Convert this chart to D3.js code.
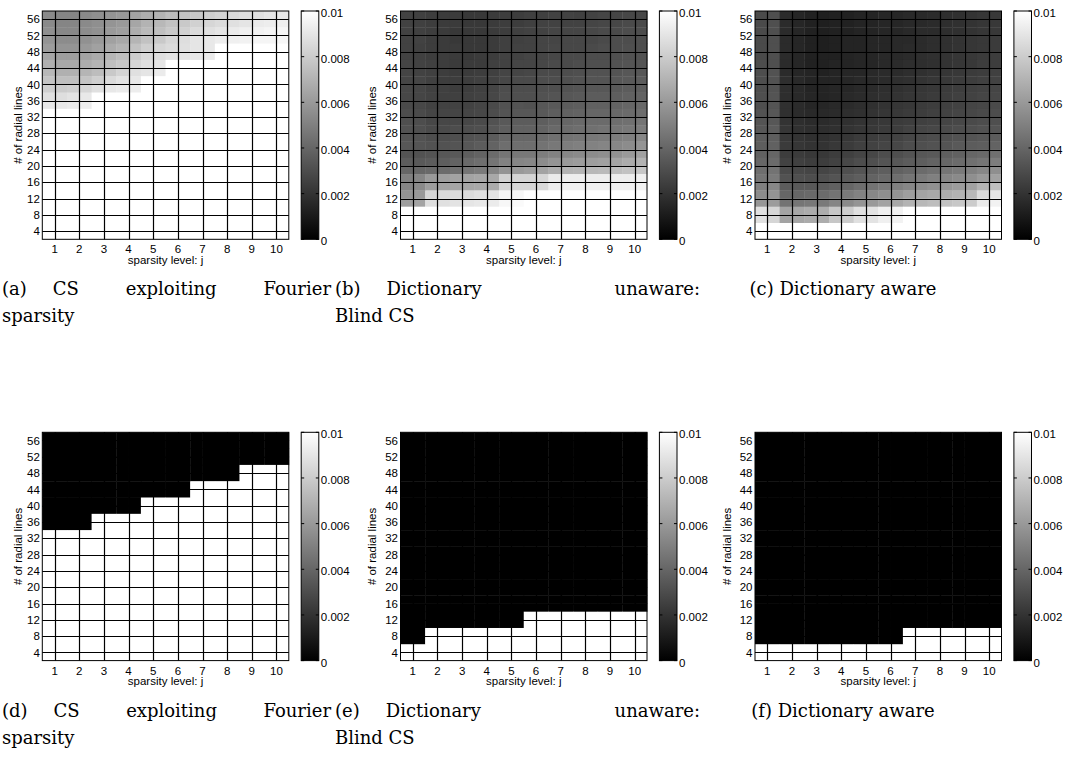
<!DOCTYPE html>
<html>
<head>
<meta charset="utf-8">
<script src="https://cdn.jsdelivr.net/npm/d3@7"></script>
<style>
  body { margin: 0; background: #fff; }
  svg { display: block; }
  .ax text { font-family: 'Liberation Sans', Arial, sans-serif; font-size: 11.5px; fill: #000; }
  .cap text { font-family: 'DejaVu Serif', serif; font-size: 18px; fill: #000; }
</style>
</head>
<body>
<div id="chart"></div>
<script>
const width = 1065;
const height = 771;

// cell centres (sparsity level j, # of radial lines)
const colCenters = [0.75, 1.25, 1.75, 2.25, 2.75, 3.25, 3.75, 4.25, 4.75, 5.25,
  5.75, 6.25, 6.75, 7.25, 7.75, 8.25, 8.75, 9.25, 9.75, 10.25];
const rowCenters = [57, 55, 53, 51, 49, 47, 45, 43, 41, 39, 37, 35, 33, 31,
  29, 27, 25, 23, 21, 19, 17, 15, 13, 11, 9, 7, 5, 3];
const xTicks = [1, 2, 3, 4, 5, 6, 7, 8, 9, 10];
const yTicks = [4, 8, 12, 16, 20, 24, 28, 32, 36, 40, 44, 48, 52, 56];
const cbTicks = [0, 0.002, 0.004, 0.006, 0.008, 0.01];

// reconstruction error, in units of 1e-3, rows from 57 lines down to 3
const fourierErr = [
  [5.4, 5.2, 5.2, 5.4, 5.6, 5.8, 6.0, 6.4, 6.8, 7.0, 7.4, 7.6, 7.9, 8.1, 8.3, 8.5, 8.7, 8.8, 9.0, 9.1],
  [5.4, 5.2, 5.2, 5.4, 5.6, 5.8, 6.0, 6.5, 7.0, 7.2, 7.6, 7.9, 8.2, 8.4, 8.6, 8.8, 9.0, 9.2, 9.3, 9.4],
  [5.6, 5.3, 5.3, 5.5, 5.7, 6.0, 6.2, 6.8, 7.3, 7.5, 7.9, 8.2, 8.6, 8.8, 9.0, 9.2, 9.4, 9.5, 9.6, 9.7],
  [5.8, 5.5, 5.5, 5.7, 6.0, 6.3, 6.6, 7.1, 7.6, 7.9, 8.4, 8.7, 9.0, 9.1, 9.3, 9.4, 9.5, 9.6, 9.6, 9.7],
  [6.1, 5.8, 5.8, 6.0, 6.3, 6.7, 7.0, 7.6, 8.1, 8.4, 8.6, 8.8, 9.0, 9.1, 10, 10, 10, 10, 10, 10],
  [6.5, 6.2, 6.2, 6.4, 6.7, 7.1, 7.4, 8.0, 8.5, 8.7, 8.9, 9.0, 9.1, 9.2, 10, 10, 10, 10, 10, 10],
  [6.9, 6.6, 6.6, 6.8, 7.1, 7.5, 7.8, 8.4, 8.8, 9.0, 10, 10, 10, 10, 10, 10, 10, 10, 10, 10],
  [7.2, 6.9, 6.9, 7.1, 7.4, 7.9, 8.3, 8.8, 9.0, 9.2, 10, 10, 10, 10, 10, 10, 10, 10, 10, 10],
  [7.7, 7.5, 7.5, 7.7, 8.1, 8.6, 8.9, 9.1, 10, 10, 10, 10, 10, 10, 10, 10, 10, 10, 10, 10],
  [8.1, 8.0, 8.1, 8.4, 8.8, 9.1, 9.2, 9.3, 10, 10, 10, 10, 10, 10, 10, 10, 10, 10, 10, 10],
  [8.8, 8.7, 8.9, 9.1, 10, 10, 10, 10, 10, 10, 10, 10, 10, 10, 10, 10, 10, 10, 10, 10],
  [9.1, 9.1, 9.2, 9.3, 10, 10, 10, 10, 10, 10, 10, 10, 10, 10, 10, 10, 10, 10, 10, 10],
  [10, 10, 10, 10, 10, 10, 10, 10, 10, 10, 10, 10, 10, 10, 10, 10, 10, 10, 10, 10],
  [10, 10, 10, 10, 10, 10, 10, 10, 10, 10, 10, 10, 10, 10, 10, 10, 10, 10, 10, 10],
  [10, 10, 10, 10, 10, 10, 10, 10, 10, 10, 10, 10, 10, 10, 10, 10, 10, 10, 10, 10],
  [10, 10, 10, 10, 10, 10, 10, 10, 10, 10, 10, 10, 10, 10, 10, 10, 10, 10, 10, 10],
  [10, 10, 10, 10, 10, 10, 10, 10, 10, 10, 10, 10, 10, 10, 10, 10, 10, 10, 10, 10],
  [10, 10, 10, 10, 10, 10, 10, 10, 10, 10, 10, 10, 10, 10, 10, 10, 10, 10, 10, 10],
  [10, 10, 10, 10, 10, 10, 10, 10, 10, 10, 10, 10, 10, 10, 10, 10, 10, 10, 10, 10],
  [10, 10, 10, 10, 10, 10, 10, 10, 10, 10, 10, 10, 10, 10, 10, 10, 10, 10, 10, 10],
  [10, 10, 10, 10, 10, 10, 10, 10, 10, 10, 10, 10, 10, 10, 10, 10, 10, 10, 10, 10],
  [10, 10, 10, 10, 10, 10, 10, 10, 10, 10, 10, 10, 10, 10, 10, 10, 10, 10, 10, 10],
  [10, 10, 10, 10, 10, 10, 10, 10, 10, 10, 10, 10, 10, 10, 10, 10, 10, 10, 10, 10],
  [10, 10, 10, 10, 10, 10, 10, 10, 10, 10, 10, 10, 10, 10, 10, 10, 10, 10, 10, 10],
  [10, 10, 10, 10, 10, 10, 10, 10, 10, 10, 10, 10, 10, 10, 10, 10, 10, 10, 10, 10],
  [10, 10, 10, 10, 10, 10, 10, 10, 10, 10, 10, 10, 10, 10, 10, 10, 10, 10, 10, 10],
  [10, 10, 10, 10, 10, 10, 10, 10, 10, 10, 10, 10, 10, 10, 10, 10, 10, 10, 10, 10],
  [10, 10, 10, 10, 10, 10, 10, 10, 10, 10, 10, 10, 10, 10, 10, 10, 10, 10, 10, 10],
];

const blindErr = [
  [2.6, 2.5, 2.4, 2.3, 2.3, 2.2, 2.2, 2.3, 2.4, 2.4, 2.5, 2.5, 2.6, 2.6, 2.5, 2.6, 2.7, 2.7, 2.8, 2.8],
  [2.6, 2.5, 2.4, 2.3, 2.3, 2.2, 2.2, 2.3, 2.4, 2.4, 2.5, 2.6, 2.6, 2.6, 2.6, 2.7, 2.8, 2.8, 2.9, 2.9],
  [2.6, 2.5, 2.4, 2.3, 2.2, 2.2, 2.2, 2.3, 2.4, 2.5, 2.6, 2.6, 2.7, 2.7, 2.7, 2.8, 2.9, 2.9, 3.0, 3.0],
  [2.6, 2.6, 2.4, 2.3, 2.2, 2.2, 2.2, 2.3, 2.5, 2.5, 2.6, 2.7, 2.7, 2.8, 2.8, 2.8, 2.9, 3.0, 3.0, 3.1],
  [2.6, 2.5, 2.4, 2.3, 2.3, 2.2, 2.2, 2.3, 2.5, 2.6, 2.6, 2.7, 2.8, 2.8, 2.8, 2.9, 3.0, 3.0, 3.1, 3.1],
  [2.6, 2.5, 2.4, 2.4, 2.3, 2.2, 2.3, 2.4, 2.6, 2.6, 2.7, 2.7, 2.8, 2.9, 2.9, 3.0, 3.0, 3.1, 3.2, 3.2],
  [2.7, 2.6, 2.5, 2.4, 2.3, 2.3, 2.3, 2.5, 2.6, 2.7, 2.7, 2.8, 2.9, 2.9, 3.0, 3.1, 3.1, 3.2, 3.3, 3.3],
  [2.7, 2.6, 2.5, 2.4, 2.3, 2.3, 2.4, 2.5, 2.7, 2.7, 2.8, 2.9, 2.9, 3.0, 3.1, 3.2, 3.2, 3.3, 3.4, 3.4],
  [2.7, 2.7, 2.5, 2.4, 2.4, 2.4, 2.5, 2.6, 2.8, 2.9, 2.9, 3.0, 3.0, 3.1, 3.2, 3.3, 3.3, 3.4, 3.5, 3.6],
  [2.8, 2.7, 2.5, 2.5, 2.4, 2.4, 2.5, 2.7, 3.0, 3.0, 3.0, 3.1, 3.1, 3.2, 3.3, 3.4, 3.4, 3.5, 3.6, 3.7],
  [2.8, 2.7, 2.6, 2.5, 2.5, 2.5, 2.6, 2.8, 3.1, 3.1, 3.1, 3.2, 3.3, 3.4, 3.5, 3.6, 3.6, 3.7, 3.8, 3.9],
  [2.9, 2.8, 2.6, 2.6, 2.6, 2.6, 2.7, 2.9, 3.2, 3.3, 3.2, 3.4, 3.5, 3.6, 3.7, 3.8, 3.8, 3.9, 4.0, 4.1],
  [3.0, 2.9, 2.7, 2.7, 2.7, 2.7, 2.8, 3.0, 3.3, 3.4, 3.4, 3.5, 3.7, 3.8, 3.9, 4.0, 4.0, 4.1, 4.2, 4.3],
  [3.1, 3.0, 2.8, 2.8, 2.8, 2.8, 2.9, 3.2, 3.5, 3.6, 3.6, 3.7, 3.9, 4.0, 4.1, 4.2, 4.2, 4.3, 4.4, 4.6],
  [3.2, 3.1, 2.9, 2.9, 3.0, 3.0, 3.1, 3.4, 3.7, 3.8, 3.8, 3.9, 4.1, 4.2, 4.3, 4.4, 4.5, 4.6, 4.7, 4.9],
  [3.3, 3.2, 3.0, 3.0, 3.1, 3.2, 3.3, 3.6, 4.0, 4.0, 4.0, 4.2, 4.4, 4.5, 4.6, 4.7, 4.8, 4.9, 5.0, 5.3],
  [3.4, 3.3, 3.2, 3.2, 3.3, 3.4, 3.6, 3.9, 4.3, 4.3, 4.3, 4.5, 4.7, 4.9, 5.0, 5.1, 5.2, 5.3, 5.5, 5.8],
  [3.3, 3.2, 3.3, 3.4, 3.5, 3.7, 3.9, 4.2, 4.6, 4.7, 4.7, 4.9, 5.1, 5.3, 5.4, 5.5, 5.6, 5.7, 6.0, 6.3],
  [3.6, 3.5, 3.6, 3.7, 3.9, 4.1, 4.3, 4.6, 5.1, 5.2, 5.3, 5.5, 5.8, 6.0, 6.1, 6.2, 6.3, 6.4, 6.7, 7.0],
  [4.0, 4.0, 4.1, 4.2, 4.4, 4.6, 4.8, 5.2, 5.8, 6.0, 6.2, 6.4, 6.8, 7.0, 7.1, 7.2, 7.3, 7.4, 7.6, 7.8],
  [5.0, 5.2, 6.0, 6.2, 6.4, 6.4, 6.5, 6.6, 8.2, 8.3, 8.3, 8.4, 9.2, 9.3, 9.3, 9.3, 9.3, 9.3, 9.3, 9.4],
  [5.2, 5.4, 6.2, 6.4, 6.5, 6.5, 6.6, 6.7, 8.3, 8.4, 8.4, 8.5, 9.3, 9.4, 9.4, 9.4, 9.4, 9.4, 9.4, 9.5],
  [5.8, 6.0, 8.4, 8.5, 8.6, 8.6, 8.8, 8.9, 9.6, 9.7, 10, 10, 10, 10, 10, 10, 10, 10, 10, 10],
  [6.2, 6.4, 8.7, 8.8, 8.9, 9.0, 9.1, 9.2, 9.7, 9.8, 10, 10, 10, 10, 10, 10, 10, 10, 10, 10],
  [10, 10, 10, 10, 10, 10, 10, 10, 10, 10, 10, 10, 10, 10, 10, 10, 10, 10, 10, 10],
  [10, 10, 10, 10, 10, 10, 10, 10, 10, 10, 10, 10, 10, 10, 10, 10, 10, 10, 10, 10],
  [10, 10, 10, 10, 10, 10, 10, 10, 10, 10, 10, 10, 10, 10, 10, 10, 10, 10, 10, 10],
  [10, 10, 10, 10, 10, 10, 10, 10, 10, 10, 10, 10, 10, 10, 10, 10, 10, 10, 10, 10],
];

const awareErr = [
  [2.9, 3.1, 1.7, 1.5, 1.3, 1.2, 1.3, 1.3, 1.4, 1.4, 1.5, 1.5, 1.6, 1.6, 1.7, 1.8, 1.9, 2.0, 2.1, 2.2],
  [2.9, 3.1, 1.7, 1.5, 1.3, 1.2, 1.3, 1.3, 1.4, 1.4, 1.5, 1.5, 1.6, 1.6, 1.7, 1.8, 1.9, 2.0, 2.1, 2.2],
  [2.9, 3.1, 1.7, 1.5, 1.3, 1.2, 1.3, 1.3, 1.4, 1.4, 1.5, 1.5, 1.6, 1.7, 1.7, 1.8, 1.9, 2.0, 2.1, 2.2],
  [2.9, 3.1, 1.7, 1.5, 1.3, 1.2, 1.3, 1.4, 1.4, 1.5, 1.5, 1.6, 1.6, 1.7, 1.8, 1.9, 2.0, 2.1, 2.2, 2.3],
  [2.9, 3.1, 1.7, 1.5, 1.3, 1.2, 1.3, 1.4, 1.4, 1.5, 1.5, 1.6, 1.7, 1.7, 1.8, 1.9, 2.0, 2.1, 2.2, 2.3],
  [2.9, 3.1, 1.7, 1.5, 1.3, 1.3, 1.3, 1.4, 1.5, 1.5, 1.6, 1.6, 1.7, 1.8, 1.9, 2.0, 2.1, 2.2, 2.3, 2.4],
  [3.0, 3.1, 1.7, 1.5, 1.3, 1.3, 1.4, 1.4, 1.5, 1.5, 1.6, 1.7, 1.8, 1.8, 1.9, 2.0, 2.1, 2.2, 2.4, 2.4],
  [3.0, 3.2, 1.7, 1.5, 1.4, 1.3, 1.4, 1.5, 1.5, 1.6, 1.7, 1.7, 1.8, 1.9, 2.0, 2.1, 2.2, 2.3, 2.4, 2.5],
  [3.0, 3.2, 1.8, 1.6, 1.4, 1.4, 1.4, 1.5, 1.6, 1.6, 1.7, 1.8, 1.9, 2.0, 2.1, 2.2, 2.3, 2.4, 2.5, 2.6],
  [3.0, 3.2, 1.8, 1.6, 1.4, 1.4, 1.5, 1.5, 1.6, 1.7, 1.8, 1.9, 2.0, 2.1, 2.2, 2.3, 2.4, 2.5, 2.6, 2.7],
  [3.1, 3.3, 1.8, 1.6, 1.5, 1.4, 1.5, 1.6, 1.7, 1.8, 1.9, 2.0, 2.1, 2.2, 2.3, 2.4, 2.5, 2.6, 2.7, 2.8],
  [3.1, 3.3, 1.9, 1.7, 1.5, 1.5, 1.6, 1.7, 1.8, 1.9, 2.0, 2.1, 2.2, 2.3, 2.4, 2.5, 2.6, 2.7, 2.8, 2.9],
  [3.2, 3.4, 1.9, 1.7, 1.6, 1.6, 1.7, 1.8, 1.9, 2.0, 2.1, 2.2, 2.3, 2.4, 2.5, 2.6, 2.7, 2.8, 2.9, 3.0],
  [3.3, 3.4, 2.0, 1.8, 1.7, 1.7, 1.8, 1.9, 2.0, 2.1, 2.2, 2.3, 2.4, 2.5, 2.6, 2.7, 2.8, 2.9, 3.0, 3.1],
  [3.4, 3.6, 2.1, 1.9, 1.8, 1.8, 1.9, 2.0, 2.1, 2.2, 2.3, 2.4, 2.6, 2.7, 2.8, 2.9, 3.0, 3.1, 3.2, 3.3],
  [3.6, 3.7, 2.2, 2.0, 1.9, 1.9, 2.0, 2.1, 2.3, 2.4, 2.5, 2.6, 2.8, 2.9, 3.0, 3.1, 3.2, 3.3, 3.4, 3.6],
  [3.7, 3.8, 2.3, 2.1, 2.0, 2.0, 2.2, 2.3, 2.5, 2.6, 2.7, 2.8, 3.0, 3.1, 3.2, 3.3, 3.5, 3.6, 3.7, 3.9],
  [3.8, 4.0, 2.4, 2.3, 2.2, 2.2, 2.4, 2.5, 2.7, 2.8, 3.0, 3.1, 3.3, 3.4, 3.5, 3.7, 3.8, 4.0, 4.1, 4.4],
  [4.0, 4.2, 2.6, 2.5, 2.4, 2.4, 2.6, 2.8, 3.0, 3.1, 3.3, 3.4, 3.6, 3.7, 3.9, 4.0, 4.2, 4.4, 4.6, 4.9],
  [4.3, 4.5, 2.9, 2.8, 2.7, 2.7, 2.9, 3.1, 3.3, 3.5, 3.7, 3.8, 4.0, 4.2, 4.4, 4.6, 4.8, 5.0, 5.3, 5.6],
  [4.6, 4.8, 3.2, 3.1, 3.0, 3.1, 3.3, 3.5, 3.7, 3.9, 4.1, 4.3, 4.6, 4.8, 5.0, 5.2, 5.4, 5.6, 6.0, 6.3],
  [5.0, 5.3, 3.6, 3.5, 3.5, 3.6, 3.8, 4.0, 4.3, 4.5, 4.8, 5.0, 5.3, 5.5, 5.7, 5.9, 6.1, 6.3, 7.0, 7.5],
  [5.5, 5.8, 4.0, 4.0, 4.1, 4.2, 4.5, 4.8, 5.1, 5.3, 5.6, 5.8, 6.2, 6.4, 6.6, 6.8, 7.0, 7.2, 8.6, 9.0],
  [5.9, 6.1, 4.5, 4.6, 4.7, 4.8, 5.2, 5.4, 5.8, 6.0, 6.4, 6.6, 7.0, 7.2, 7.4, 7.6, 7.8, 8.0, 9.2, 9.5],
  [8.8, 8.4, 6.4, 6.5, 6.7, 6.8, 7.8, 8.0, 8.8, 8.9, 9.4, 9.5, 10, 10, 10, 10, 10, 10, 10, 10],
  [8.8, 8.4, 6.4, 6.5, 6.7, 6.8, 7.8, 8.0, 8.8, 8.9, 9.4, 9.5, 10, 10, 10, 10, 10, 10, 10, 10],
  [10, 10, 10, 10, 10, 10, 10, 10, 10, 10, 10, 10, 10, 10, 10, 10, 10, 10, 10, 10],
  [10, 10, 10, 10, 10, 10, 10, 10, 10, 10, 10, 10, 10, 10, 10, 10, 10, 10, 10, 10],
];

// thresholded maps: per column, the # of radial lines above which the cell is black
const fourierEdge = [34, 34, 34, 34, 38, 38, 38, 38, 42, 42, 42, 42, 46, 46, 46, 46, 50, 50, 50, 50];
const blindEdge = [6, 6, 10, 10, 10, 10, 10, 10, 10, 10, 14, 14, 14, 14, 14, 14, 14, 14, 14, 14];
const awareEdge = [6, 6, 6, 6, 6, 6, 6, 6, 6, 6, 6, 6, 10, 10, 10, 10, 10, 10, 10, 10];

function toGrid(edge) {
  return rowCenters.map((r) => colCenters.map((c, i) => (r > edge[i] ? 0 : 10)));
}

const plotW = 246.5;
const plotH = 228.3;

const panels = [
  { grid: fourierErr, left: 42.3, top: 11, ylab: 24, words: ['(a)', 'CS', 'exploiting', 'Fourier'], line2: 'sparsity', box: [2, 331] },
  { grid: blindErr, left: 400.5, top: 11, ylab: 29, words: ['(b)', 'Dictionary', 'unaware:'], line2: 'Blind CS', box: [335, 700] },
  { grid: awareErr, left: 755, top: 11, ylab: 28, words: ['(c)', 'Dictionary', 'aware'], center: 843 },
  { grid: toGrid(fourierEdge), left: 42.3, top: 432.3, ylab: 24, words: ['(d)', 'CS', 'exploiting', 'Fourier'], line2: 'sparsity', box: [2, 331] },
  { grid: toGrid(blindEdge), left: 400.5, top: 432.3, ylab: 29, words: ['(e)', 'Dictionary', 'unaware:'], line2: 'Blind CS', box: [335, 700] },
  { grid: toGrid(awareEdge), left: 755, top: 432.3, ylab: 28, words: ['(f)', 'Dictionary', 'aware'], center: 843 },
];

const svg = d3
  .select('#chart')
  .append('svg')
  .attr('width', width)
  .attr('height', height);

const grad = svg
  .append('defs')
  .append('linearGradient')
  .attr('id', 'grayMap')
  .attr('x1', 0).attr('y1', 1).attr('x2', 0).attr('y2', 0);
grad.append('stop').attr('offset', 0).attr('stop-color', '#000');
grad.append('stop').attr('offset', 1).attr('stop-color', '#fff');

const color = d3.scaleLinear().domain([0, 0.01]).range(['#000', '#fff']).clamp(true);

function drawPanel(p) {
  const x = d3.scaleLinear().domain([0.5, 10.5]).range([p.left, p.left + plotW]);
  const y = d3.scaleLinear().domain([2, 58]).range([p.top + plotH, p.top]);
  const g = svg.append('g').attr('class', 'ax');

  const cells = [];
  p.grid.forEach((row, ri) => {
    row.forEach((v, ci) => cells.push({ j: colCenters[ci], r: rowCenters[ri], v: v / 1000 }));
  });

  g.append('g')
    .selectAll('rect')
    .data(cells)
    .enter()
    .append('rect')
    .attr('x', (d) => x(d.j - 0.25))
    .attr('y', (d) => y(d.r + 1))
    .attr('width', x(0.5) - x(0) + 0.4)
    .attr('height', y(0) - y(2) + 0.4)
    .attr('fill', (d) => color(d.v));

  // grid lines at the ticks
  g.append('g')
    .selectAll('line')
    .data(xTicks)
    .enter()
    .append('line')
    .attr('x1', (d) => Math.round(x(d)) + 0.5)
    .attr('x2', (d) => Math.round(x(d)) + 0.5)
    .attr('y1', p.top)
    .attr('y2', p.top + plotH)
    .attr('stroke', '#000')
    .attr('stroke-width', 1.2);

  g.append('g')
    .selectAll('line')
    .data(yTicks)
    .enter()
    .append('line')
    .attr('y1', (d) => Math.round(y(d)) + 0.5)
    .attr('y2', (d) => Math.round(y(d)) + 0.5)
    .attr('x1', p.left)
    .attr('x2', p.left + plotW)
    .attr('stroke', '#000')
    .attr('stroke-width', 1.2);

  g.append('rect')
    .attr('x', p.left)
    .attr('y', p.top)
    .attr('width', plotW)
    .attr('height', plotH)
    .attr('fill', 'none')
    .attr('stroke', '#000');

  g.selectAll('text.yt')
    .data(yTicks)
    .enter()
    .append('text')
    .attr('class', 'yt')
    .attr('x', p.left - 2.5)
    .attr('y', (d) => y(d))
    .attr('dy', '0.36em')
    .attr('text-anchor', 'end')
    .text((d) => d);

  g.selectAll('text.xt')
    .data(xTicks)
    .enter()
    .append('text')
    .attr('class', 'xt')
    .attr('x', (d) => x(d))
    .attr('y', p.top + plotH + 14)
    .attr('text-anchor', 'middle')
    .text((d) => d);

  g.append('text')
    .attr('x', p.left + plotW / 2)
    .attr('y', p.top + plotH + 24.5)
    .attr('text-anchor', 'middle')
    .text('sparsity level: j');

  g.append('text')
    .attr('transform', 'translate(' + (p.left - p.ylab) + ',' + (p.top + plotH / 2) + ') rotate(-90)')
    .attr('dy', '0.36em')
    .attr('text-anchor', 'middle')
    .text('# of radial lines');

  // colour bar
  const cbX = p.left + plotW + 12.4;
  const cbW = 17.6;
  const cy = d3.scaleLinear().domain([0, 0.01]).range([p.top + plotH, p.top]);
  g.append('rect')
    .attr('x', cbX)
    .attr('y', p.top)
    .attr('width', cbW)
    .attr('height', plotH)
    .attr('fill', 'url(#grayMap)')
    .attr('stroke', '#000');

  const cbt = g.append('g').selectAll('g').data(cbTicks).enter().append('g');
  cbt.append('line')
    .attr('x1', cbX).attr('x2', cbX + 3)
    .attr('y1', (d) => cy(d)).attr('y2', (d) => cy(d))
    .attr('stroke', '#000');
  cbt.append('line')
    .attr('x1', cbX + cbW - 3).attr('x2', cbX + cbW)
    .attr('y1', (d) => cy(d)).attr('y2', (d) => cy(d))
    .attr('stroke', '#000');
  cbt.append('text')
    .attr('x', cbX + cbW + 2)
    .attr('y', (d) => cy(d) + 2)
    .attr('dy', '0.36em')
    .text((d) => (d === 0 ? '0' : d3.format('.3~f')(d)));

  // caption: label, fixed gap, then the words stretched to the box edge
  const cap = svg.append('g').attr('class', 'cap');
  const base = p.top + plotH + 56;
  if (p.center) {
    cap.append('text')
      .attr('x', p.center)
      .attr('y', base)
      .attr('text-anchor', 'middle')
      .text(p.words.join(' '));
  } else {
    const ws = p.words.map((w) => cap.append('text').attr('y', base).text(w));
    const lens = ws.map((t) => t.node().getComputedTextLength());
    const labelGap = 26;
    ws[0].attr('x', p.box[0]);
    const start = p.box[0] + lens[0] + labelGap;
    const rest = lens.slice(1);
    const gap = rest.length > 1 ? (p.box[1] - start - d3.sum(rest)) / (rest.length - 1) : 0;
    let cx = start;
    ws.slice(1).forEach((t, i) => {
      t.attr('x', cx);
      cx += rest[i] + gap;
    });
    cap.append('text')
      .attr('x', p.box[0])
      .attr('y', base + 27)
      .text(p.line2);
  }
}

panels.forEach(drawPanel);
</script>
</body>
</html>
